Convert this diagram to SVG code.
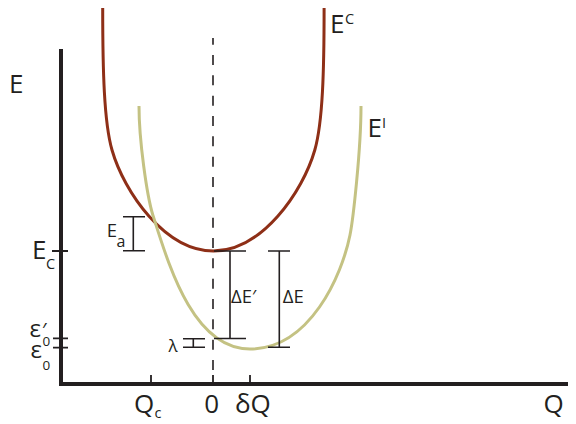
<svg xmlns="http://www.w3.org/2000/svg" width="576" height="424" viewBox="0 0 576 424">
<style>
.ax{stroke:#231F20;stroke-width:4;fill:none}
.tk{stroke:#231F20;stroke-width:1.8;fill:none}
.br{stroke:#231F20;stroke-width:1.6;fill:none}
.t{font-family:"Open Sans","Liberation Sans",sans-serif;fill:#231F20}
.big{font-size:26px}
.mid{font-size:18.5px}
.sm{font-size:14.5px}
</style>
<rect width="576" height="424" fill="#ffffff"/>
<g id="axes">
<path class="ax" d="M61,49 V384 H568"/>
<path class="tk" d="M151,375 V384 M213,375 V384 M250,375 V384"/>
<path class="tk" d="M52,251 H68 M53,338.3 H68 M53,347.7 H68"/>
</g>
<line id="zero-line" x1="213" y1="38" x2="213" y2="370" stroke="#231F20" stroke-width="1.6" stroke-dasharray="10 10.33" stroke-dashoffset="3.3"/>
<g id="curve-EC">
<path d="M102.7,8 C102.7,70 104,122 112,150 C124,192 165,251 213.4,251 C261.8,251 302.8,192 314.8,150 C322.8,122 324.1,70 324.1,8" fill="none" stroke="#8E2F17" stroke-width="3"/>
</g>
<g id="curve-EI">
<path d="M139,106 C139,140 146.8,195 152.8,215 C168,262 192,349 250,349 C310,349 342,275 350,235 C353,220 361,150 361,106" fill="none" stroke="#C4C283" stroke-width="3"/>
</g>
<g id="bars">
<path class="br" d="M133.3,216.7 V250.7 M123,216.7 H145 M123,250.7 H145"/>
<path class="br" d="M230,251 V338.5 M214,251 H246 M214,338.5 H246"/>
<path class="br" d="M279.3,251 V347.3 M268,251 H290 M268,347.3 H290"/>
<path class="br" d="M193.3,338.8 V347.3 M183,338.8 H205 M183,347.3 H205"/>
</g>
<g id="labels">
<text class="t big" x="9" y="93">E</text>
<text class="t big" x="330" y="33.3">E<tspan class="sm" x="345" y="24">C</tspan></text>
<text class="t big" x="367.6" y="136.7">E<tspan class="sm" x="382" y="128.3">I</tspan></text>
<text class="t big" x="32" y="259.3">E<tspan class="sm" x="46" y="269">C</tspan></text>
<text class="t" style="font-size:24px" x="29.5" y="337.3">ε<tspan style="font-size:20px" x="42" y="337">′</tspan><tspan style="font-size:13.5px" x="42.5" y="346">0</tspan></text>
<text class="t" style="font-size:24px" x="30.5" y="358.3">ε<tspan style="font-size:13.5px" x="42.5" y="370">0</tspan></text>
<text class="t mid" x="106.7" y="236.7">E<tspan style="font-size:16px" x="116.5" y="246.7">a</tspan></text>
<text class="t mid" x="231" y="303.3">ΔE′</text>
<text class="t mid" x="282.8" y="303.3">ΔE</text>
<text class="t" style="font-size:17px" x="168.5" y="351.7">λ</text>
<text class="t big" x="134" y="412.5">Q<tspan class="sm" x="154.5" y="418.3">c</tspan></text>
<text class="t big" x="211.7" y="412.5" text-anchor="middle">0</text>
<text class="t big" x="235" y="412.5">δQ</text>
<text class="t big" x="543.5" y="412.5">Q</text>
</g>
</svg>
